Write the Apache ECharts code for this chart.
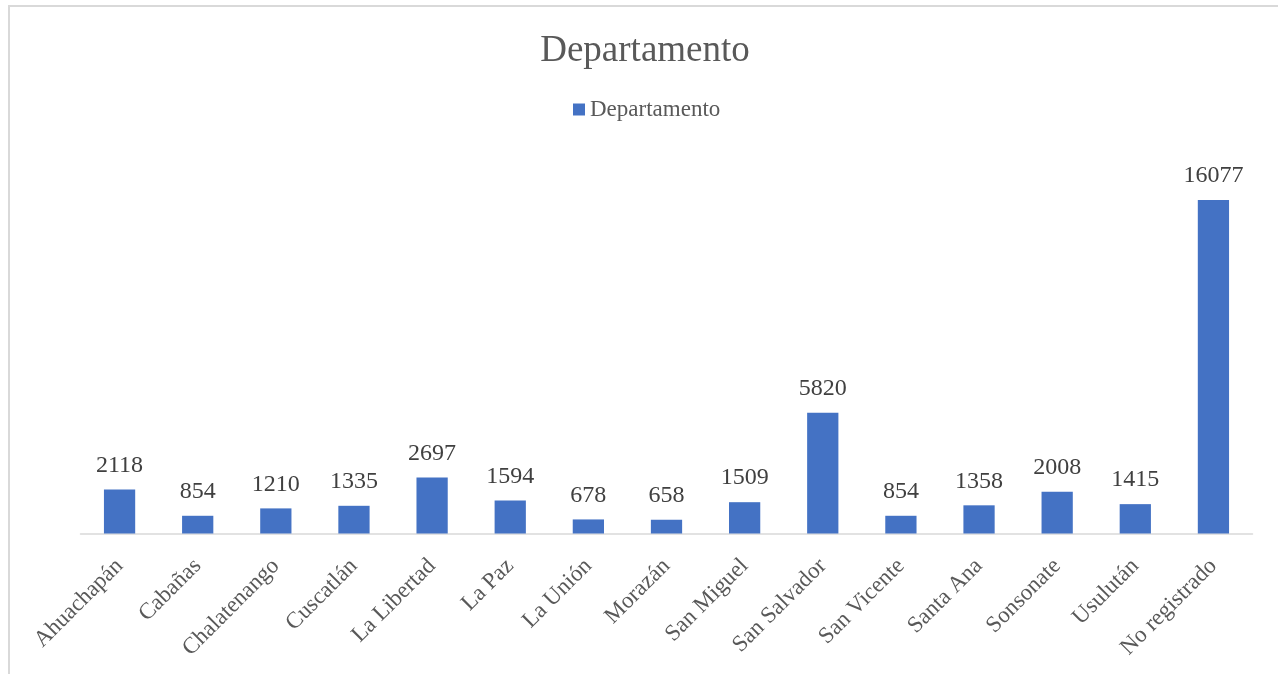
<!DOCTYPE html>
<html>
<head>
<meta charset="utf-8">
<script src="https://cdn.jsdelivr.net/npm/echarts@6/dist/echarts.min.js"></script>
<style>
  html, body { margin: 0; padding: 0; background: #fff; }
  #frame { position: absolute; left: 8px; top: 5px; width: 1270px; height: 669px;
           border-top: 2px solid #d9d9d9; border-left: 2px solid #d9d9d9; box-sizing: border-box; }
  #graph { position: absolute; left: 0; top: 0; width: 1278px; height: 674px; }
</style>
</head>
<body>
<div id="frame"></div>
<div id="graph"></div>
<script>
"use strict"

const departamentos = ["Ahuachapán", "Cabañas", "Chalatenango", "Cuscatlán", "La Libertad", "La Paz",
    "La Unión", "Morazán", "San Miguel", "San Salvador", "San Vicente", "Santa Ana", "Sonsonate",
    "Usulután", "No registrado"];
const conteos = [2118, 854, 1210, 1335, 2697, 1594, 678, 658, 1509, 5820, 854, 1358, 2008, 1415, 16077];
const serieNombre = "Departamento";

const serif = "'Liberation Serif', 'Times New Roman', serif";

const myChart = echarts.init(document.getElementById("graph"), null, { renderer: "canvas" });

const option = {
    animation: false,
    title: {
        text: "Departamento",
        left: 640,
        textAlign: "center",
        top: 28,
        textStyle: { fontFamily: serif, fontSize: 37, fontWeight: "normal", color: "#595959" }
    },
    legend: {
        data: [serieNombre],
        left: 568,
        top: 93,
        icon: "rect",
        itemWidth: 12,
        itemHeight: 12,
        itemGap: 6,
        textStyle: { fontFamily: serif, fontSize: 23, color: "#595959" }
    },
    grid: { left: 80.5, right: 25.5, top: 160, bottom: 140.5, containLabel: false },
    xAxis: {
        type: "category",
        data: departamentos,
        axisLine: { lineStyle: { color: "#d9d9d9", width: 1.5 } },
        axisTick: { show: false },
        axisLabel: {
            rotate: 45,
            interval: 0,
            margin: 29,
            fontFamily: serif,
            fontSize: 23,
            color: "#595959"
        }
    },
    yAxis: {
        type: "value",
        min: 0,
        max: 18000,
        show: false,
        splitLine: { show: false }
    },
    series: [{
        name: serieNombre,
        type: "bar",
        data: conteos,
        barWidth: "40%",
        itemStyle: { color: "#4472c4" },
        label: {
            show: true,
            position: "top",
            distance: 12,
            fontFamily: serif,
            fontSize: 24,
            color: "#404040"
        }
    }]
};

myChart.setOption(option);
</script>
</body>
</html>
